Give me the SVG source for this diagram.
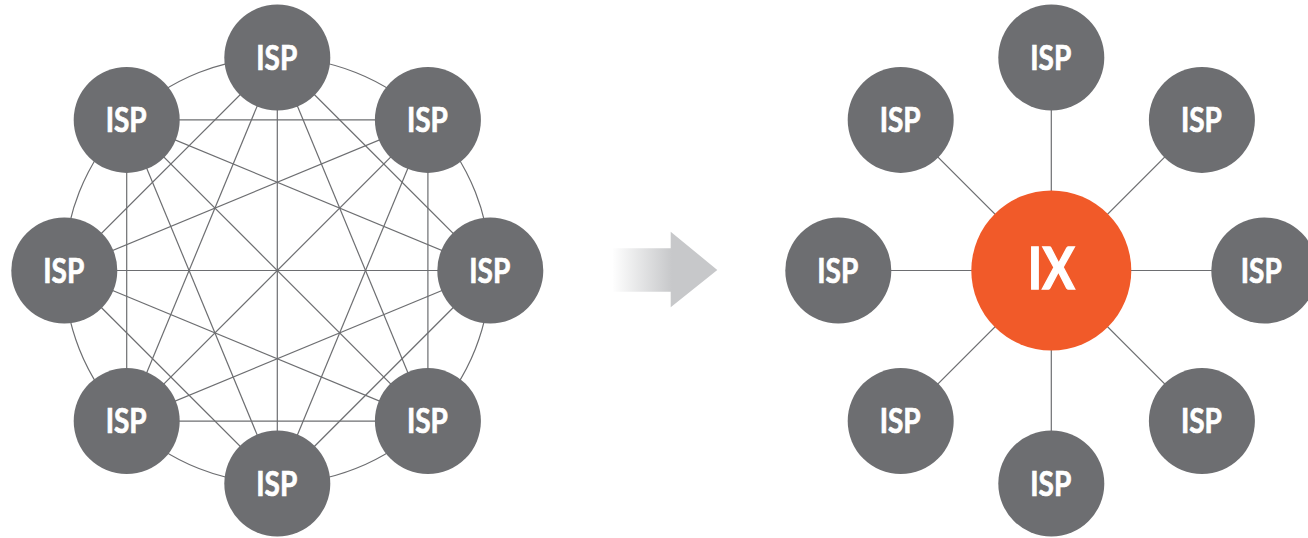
<svg xmlns="http://www.w3.org/2000/svg" width="1308" height="538" viewBox="0 0 1308 538">
<defs>
<style>
.ln{stroke:#6d6e71;stroke-width:1.2;fill:none}
.isp{fill:#6d6e71}
.ix{fill:#f15a29}
.t{fill:#ffffff;stroke:#ffffff;stroke-width:0.7;font-family:Lato,"Liberation Sans",sans-serif;font-weight:bold;font-size:34px;text-anchor:middle}
.tix{fill:#ffffff;stroke:#ffffff;stroke-width:1.4;font-family:Lato,"Liberation Sans",sans-serif;font-weight:bold;font-size:57px;text-anchor:middle}
</style>
<linearGradient id="ag" gradientUnits="userSpaceOnUse" x1="612" y1="0" x2="672" y2="0">
<stop offset="0" stop-color="#ffffff"/>
<stop offset="1" stop-color="#c7c8ca"/>
</linearGradient>
</defs>
<rect width="1308" height="538" fill="#ffffff"/>
<g id="connectors">
<circle class="ln" cx="277.3" cy="270.5" r="213"/>
<line class="ln" x1="277.3" y1="57.5" x2="490.3" y2="270.5"/>
<line class="ln" x1="427.9" y1="119.9" x2="427.9" y2="421.1"/>
<line class="ln" x1="490.3" y1="270.5" x2="277.3" y2="483.5"/>
<line class="ln" x1="427.9" y1="421.1" x2="126.7" y2="421.1"/>
<line class="ln" x1="277.3" y1="483.5" x2="64.3" y2="270.5"/>
<line class="ln" x1="126.7" y1="421.1" x2="126.7" y2="119.9"/>
<line class="ln" x1="64.3" y1="270.5" x2="277.3" y2="57.5"/>
<line class="ln" x1="126.7" y1="119.9" x2="427.9" y2="119.9"/>
<line class="ln" x1="277.3" y1="57.5" x2="427.9" y2="421.1"/>
<line class="ln" x1="427.9" y1="119.9" x2="277.3" y2="483.5"/>
<line class="ln" x1="490.3" y1="270.5" x2="126.7" y2="421.1"/>
<line class="ln" x1="427.9" y1="421.1" x2="64.3" y2="270.5"/>
<line class="ln" x1="277.3" y1="483.5" x2="126.7" y2="119.9"/>
<line class="ln" x1="126.7" y1="421.1" x2="277.3" y2="57.5"/>
<line class="ln" x1="64.3" y1="270.5" x2="427.9" y2="119.9"/>
<line class="ln" x1="126.7" y1="119.9" x2="490.3" y2="270.5"/>
<line class="ln" x1="277.3" y1="57.5" x2="277.3" y2="483.5"/>
<line class="ln" x1="427.9" y1="119.9" x2="126.7" y2="421.1"/>
<line class="ln" x1="490.3" y1="270.5" x2="64.3" y2="270.5"/>
<line class="ln" x1="427.9" y1="421.1" x2="126.7" y2="119.9"/>
<line class="ln" x1="1051.3" y1="270.5" x2="1051.3" y2="57.5"/>
<line class="ln" x1="1051.3" y1="270.5" x2="1201.9" y2="119.9"/>
<line class="ln" x1="1051.3" y1="270.5" x2="1264.3" y2="270.5"/>
<line class="ln" x1="1051.3" y1="270.5" x2="1201.9" y2="421.1"/>
<line class="ln" x1="1051.3" y1="270.5" x2="1051.3" y2="483.5"/>
<line class="ln" x1="1051.3" y1="270.5" x2="900.7" y2="421.1"/>
<line class="ln" x1="1051.3" y1="270.5" x2="838.3" y2="270.5"/>
<line class="ln" x1="1051.3" y1="270.5" x2="900.7" y2="119.9"/>
</g>
<g id="arrow">
<polygon fill="url(#ag)" points="613,248.3 670.7,248.3 670.7,231.7 717.3,270 670.7,307.3 670.7,291.7 613,291.7"/>
</g>
<g id="mesh-isp-top"><circle class="isp" cx="277.3" cy="57.5" r="53"/><text class="t" x="276.8" y="69.7" textLength="41" lengthAdjust="spacingAndGlyphs">ISP</text></g>
<g id="mesh-isp-topright"><circle class="isp" cx="427.9" cy="119.9" r="53"/><text class="t" x="427.4" y="132.1" textLength="41" lengthAdjust="spacingAndGlyphs">ISP</text></g>
<g id="mesh-isp-right"><circle class="isp" cx="490.3" cy="270.5" r="53"/><text class="t" x="489.8" y="282.7" textLength="41" lengthAdjust="spacingAndGlyphs">ISP</text></g>
<g id="mesh-isp-bottomright"><circle class="isp" cx="427.9" cy="421.1" r="53"/><text class="t" x="427.4" y="433.3" textLength="41" lengthAdjust="spacingAndGlyphs">ISP</text></g>
<g id="mesh-isp-bottom"><circle class="isp" cx="277.3" cy="483.5" r="53"/><text class="t" x="276.8" y="495.7" textLength="41" lengthAdjust="spacingAndGlyphs">ISP</text></g>
<g id="mesh-isp-bottomleft"><circle class="isp" cx="126.7" cy="421.1" r="53"/><text class="t" x="126.2" y="433.3" textLength="41" lengthAdjust="spacingAndGlyphs">ISP</text></g>
<g id="mesh-isp-left"><circle class="isp" cx="64.3" cy="270.5" r="53"/><text class="t" x="63.8" y="282.7" textLength="41" lengthAdjust="spacingAndGlyphs">ISP</text></g>
<g id="mesh-isp-topleft"><circle class="isp" cx="126.7" cy="119.9" r="53"/><text class="t" x="126.2" y="132.1" textLength="41" lengthAdjust="spacingAndGlyphs">ISP</text></g>
<g id="ix"><circle class="ix" cx="1051.3" cy="270.5" r="80"/><text class="tix" x="1051.3" y="289" textLength="47" lengthAdjust="spacingAndGlyphs">IX</text></g>
<g id="ix-isp-top"><circle class="isp" cx="1051.3" cy="57.5" r="53"/><text class="t" x="1050.8" y="69.7" textLength="41" lengthAdjust="spacingAndGlyphs">ISP</text></g>
<g id="ix-isp-topright"><circle class="isp" cx="1201.9" cy="119.9" r="53"/><text class="t" x="1201.4" y="132.1" textLength="41" lengthAdjust="spacingAndGlyphs">ISP</text></g>
<g id="ix-isp-right"><circle class="isp" cx="1264.3" cy="270.5" r="53"/><text class="t" x="1261.3" y="282.7" textLength="41" lengthAdjust="spacingAndGlyphs">ISP</text></g>
<g id="ix-isp-bottomright"><circle class="isp" cx="1201.9" cy="421.1" r="53"/><text class="t" x="1201.4" y="433.3" textLength="41" lengthAdjust="spacingAndGlyphs">ISP</text></g>
<g id="ix-isp-bottom"><circle class="isp" cx="1051.3" cy="483.5" r="53"/><text class="t" x="1050.8" y="495.7" textLength="41" lengthAdjust="spacingAndGlyphs">ISP</text></g>
<g id="ix-isp-bottomleft"><circle class="isp" cx="900.7" cy="421.1" r="53"/><text class="t" x="900.2" y="433.3" textLength="41" lengthAdjust="spacingAndGlyphs">ISP</text></g>
<g id="ix-isp-left"><circle class="isp" cx="838.3" cy="270.5" r="53"/><text class="t" x="837.8" y="282.7" textLength="41" lengthAdjust="spacingAndGlyphs">ISP</text></g>
<g id="ix-isp-topleft"><circle class="isp" cx="900.7" cy="119.9" r="53"/><text class="t" x="900.2" y="132.1" textLength="41" lengthAdjust="spacingAndGlyphs">ISP</text></g>
</svg>
